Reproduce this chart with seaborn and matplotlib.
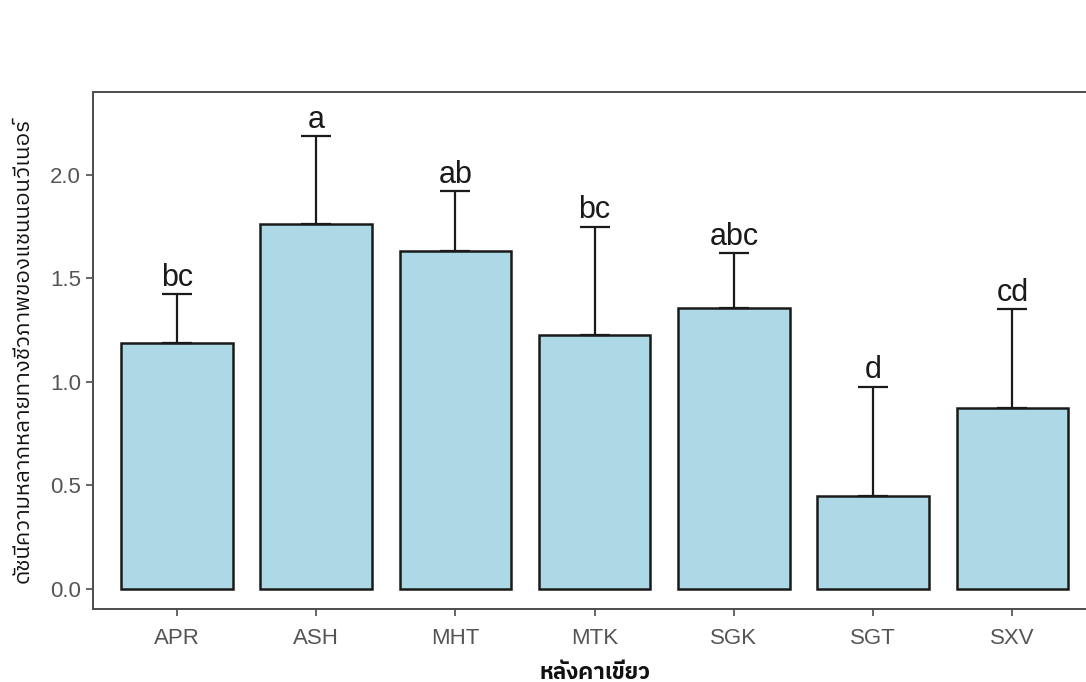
import matplotlib
matplotlib.use("Agg")
import matplotlib.pyplot as plt
import seaborn as sns
import pandas as pd
from matplotlib import font_manager as fm

sites = ["APR", "ASH", "MHT", "MTK", "SGK", "SGT", "SXV"]
means = [1.186, 1.760, 1.630, 1.226, 1.355, 0.449, 0.875]
upper = [1.422, 2.186, 1.921, 1.749, 1.622, 0.976, 1.351]
letters = ["bc", "a", "ab", "bc", "abc", "d", "cd"]
yticks = [0.0, 0.5, 1.0, 1.5, 2.0]
ytick_labels = ["0.0", "0.5", "1.0", "1.5", "2.0"]
xlabel = "หลังคาเขียว"
ylabel = "ดัชนีความหลากหลายทางชีวภาพของแชนนอนวีเนอร์"


def find_thai_font():
    try:
        from fontTools.ttLib import TTFont
    except Exception:
        return None
    cands = []
    for f in fm.fontManager.ttflist:
        try:
            tt = TTFont(f.fname, fontNumber=0, lazy=True)
            cmap = tt.getBestCmap()
            if cmap and 0x0E2B in cmap and 0x0E31 in cmap:
                score = 0
                n = f.name.lower()
                if "thai" in n:
                    score -= 10
                if "sans" in n:
                    score -= 5
                if "looped" in n:
                    score += 3
                if f.weight not in ("normal", 400, "regular"):
                    score += 1
                cands.append((score, f.name))
        except Exception:
            pass
    if not cands:
        return None
    cands.sort()
    return cands[0][1]


names = {f.name for f in fm.fontManager.ttflist}
latin = "Liberation Sans Narrow" if "Liberation Sans Narrow" in names else "Liberation Sans"
thai = find_thai_font()
thai_fam = [thai, "DejaVu Sans"] if thai else ["DejaVu Sans"]

sns.set_theme(style="white")
plt.rcParams["font.family"] = [latin, "DejaVu Sans"]

df = pd.DataFrame({"site": sites, "mean": means, "upper": upper})

fig = plt.figure(figsize=(10.86, 6.82), dpi=100)
ax = fig.add_axes([93.3 / 1086, 73 / 682, (1096 - 93.3) / 1086, (590 - 73) / 682])

sns.barplot(data=df, x="site", y="mean", color="#ADD8E6", saturation=1,
            edgecolor="#1a1a1a", linewidth=1.8, width=0.8, ax=ax, errorbar=None)

err_up = [u - m for u, m in zip(upper, means)]
ax.errorbar(range(len(sites)), means, yerr=[[0] * len(sites), err_up], fmt="none",
            ecolor="#1a1a1a", elinewidth=1.6, capsize=10.5, capthick=1.6, zorder=5)

for i, (u, lab) in enumerate(zip(upper, letters)):
    ax.annotate(lab, (i, u), xytext=(0, 1), textcoords="offset points",
                ha="center", va="bottom", fontsize=22, color="#1a1a1a")

ax.set_xlim(-0.6, 6.6)
ax.set_ylim(-0.0965, 2.399)
ax.set_yticks(yticks)
ax.set_yticklabels(ytick_labels)

for s in ax.spines.values():
    s.set_color("#4d4d4d")
    s.set_linewidth(1.4)

ax.tick_params(axis="both", which="both", direction="out", length=5, width=1.2,
               color="#4d4d4d", labelcolor="#555555", labelsize=16, pad=4,
               bottom=True, left=True)
ax.tick_params(axis="x", pad=9)

ax.set_xlabel(xlabel, family=thai_fam, fontsize=16, fontweight="bold", color="#111111", labelpad=9)
ax.set_ylabel(ylabel, family=thai_fam, fontsize=16, color="#111111", labelpad=12)

fig.savefig("out.png", dpi=100)
